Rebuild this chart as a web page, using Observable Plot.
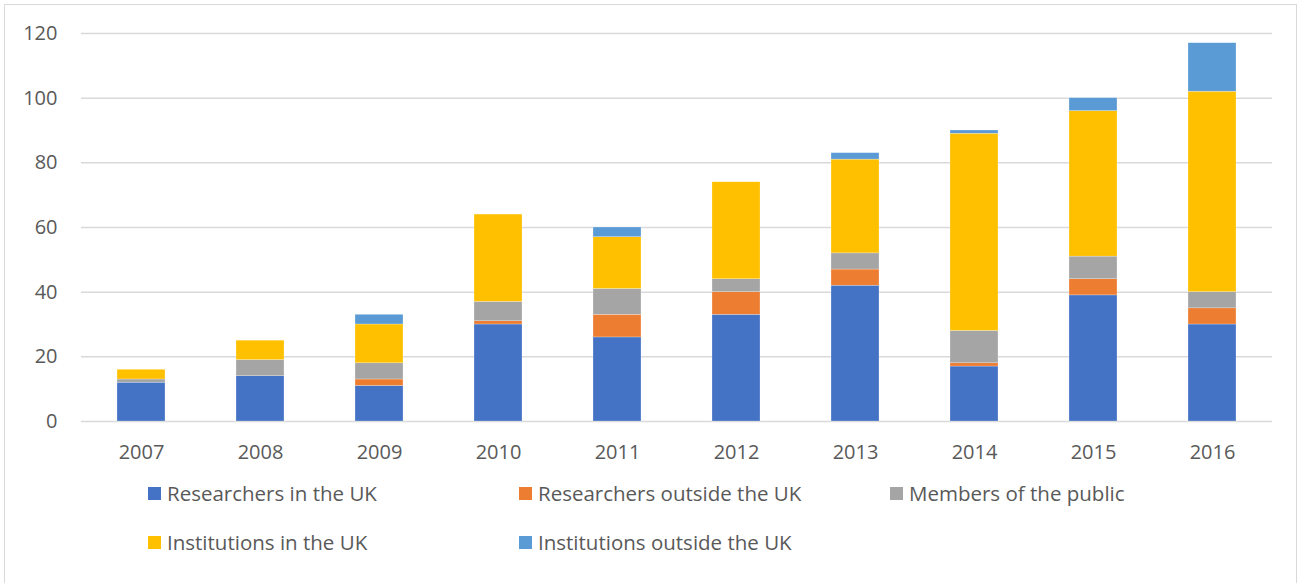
<!DOCTYPE html>
<html>
<head>
<meta charset="utf-8">
<script src="https://cdn.jsdelivr.net/npm/d3@7"></script>
<script src="https://cdn.jsdelivr.net/npm/@observablehq/plot@0.6"></script>
<style>
  html, body { margin: 0; padding: 0; background: #fff; width: 1301px; height: 583px; overflow: hidden; }
  #frame { position: absolute; left: 4px; top: 4px; width: 1293px; height: 600px; border: 1px solid #d9d9d9; box-sizing: border-box; }
  #chart { position: absolute; left: 0; top: 0; }
  #legend { position: absolute; left: 0; top: 0; width: 1301px; height: 583px; font-family: "Open Sans", sans-serif; font-size: 20.5px; color: #595959; }
  .item { position: absolute; display: flex; align-items: center; height: 24px; white-space: nowrap; }
  .sw { width: 13px; height: 13px; margin-right: 6px; }
</style>
</head>
<body>
<div id="frame"></div>
<div id="chart"></div>
<div id="legend"></div>
<script>
const years = ["2007","2008","2009","2010","2011","2012","2013","2014","2015","2016"];
const seriesNames = ["Researchers in the UK","Researchers outside the UK","Members of the public","Institutions in the UK","Institutions outside the UK"];
const seriesColors = ["#4472C4","#ED7D31","#A5A5A5","#FFC000","#5B9BD5"];
const researchersUK = [12,14,11,30,26,33,42,17,39,30];
const researchersOutsideUK = [0,0,2,1,7,7,5,1,5,5];
const membersOfPublic = [1,5,5,6,8,4,5,10,7,5];
const institutionsUK = [3,6,12,27,16,30,29,61,45,62];
const institutionsOutsideUK = [0,0,3,0,3,0,2,1,4,15];
const yTicks = [0,20,40,60,80,100,120];

const seriesValues = [researchersUK, researchersOutsideUK, membersOfPublic, institutionsUK, institutionsOutsideUK];
const rows = [];
seriesNames.forEach((s, i) => years.forEach((y, j) => rows.push({year: y, series: s, value: seriesValues[i][j]})));

const chart = Plot.plot({
  width: 1301,
  height: 470,
  marginLeft: 81,
  marginRight: 29,
  marginTop: 33,
  marginBottom: 49,
  style: {fontFamily: "'Open Sans', sans-serif", fontSize: "20px", color: "#595959", background: "transparent"},
  x: {domain: years, paddingInner: 0.6, paddingOuter: 0.3, label: null, tickSize: 0, tickPadding: 23},
  y: {domain: [0, 120], ticks: yTicks, label: null, tickSize: 0, tickPadding: 24},
  color: {domain: seriesNames, range: seriesColors},
  marks: [
    Plot.ruleY(yTicks, {stroke: "#d9d9d9", strokeWidth: 1.5}),
    Plot.barY(rows, Plot.stackY({order: seriesNames}, {x: "year", y: "value", z: "series", fill: "series", stroke: "#fff", strokeOpacity: 0.5, strokeWidth: 0.5}))
  ]
});
chart.querySelectorAll("text").forEach(t => t.setAttribute("fill", "#595959"));
document.getElementById("chart").appendChild(chart);

const legendPos = [[148, 481], [519, 481], [890, 481], [148, 530], [519, 530]];
const legend = document.getElementById("legend");
seriesNames.forEach((s, i) => {
  const it = document.createElement("div");
  it.className = "item";
  it.style.left = legendPos[i][0] + "px";
  it.style.top = legendPos[i][1] + "px";
  const sw = document.createElement("span");
  sw.className = "sw";
  sw.style.background = seriesColors[i];
  const tx = document.createElement("span");
  tx.textContent = s;
  it.appendChild(sw); it.appendChild(tx);
  legend.appendChild(it);
});
</script>
</body>
</html>
